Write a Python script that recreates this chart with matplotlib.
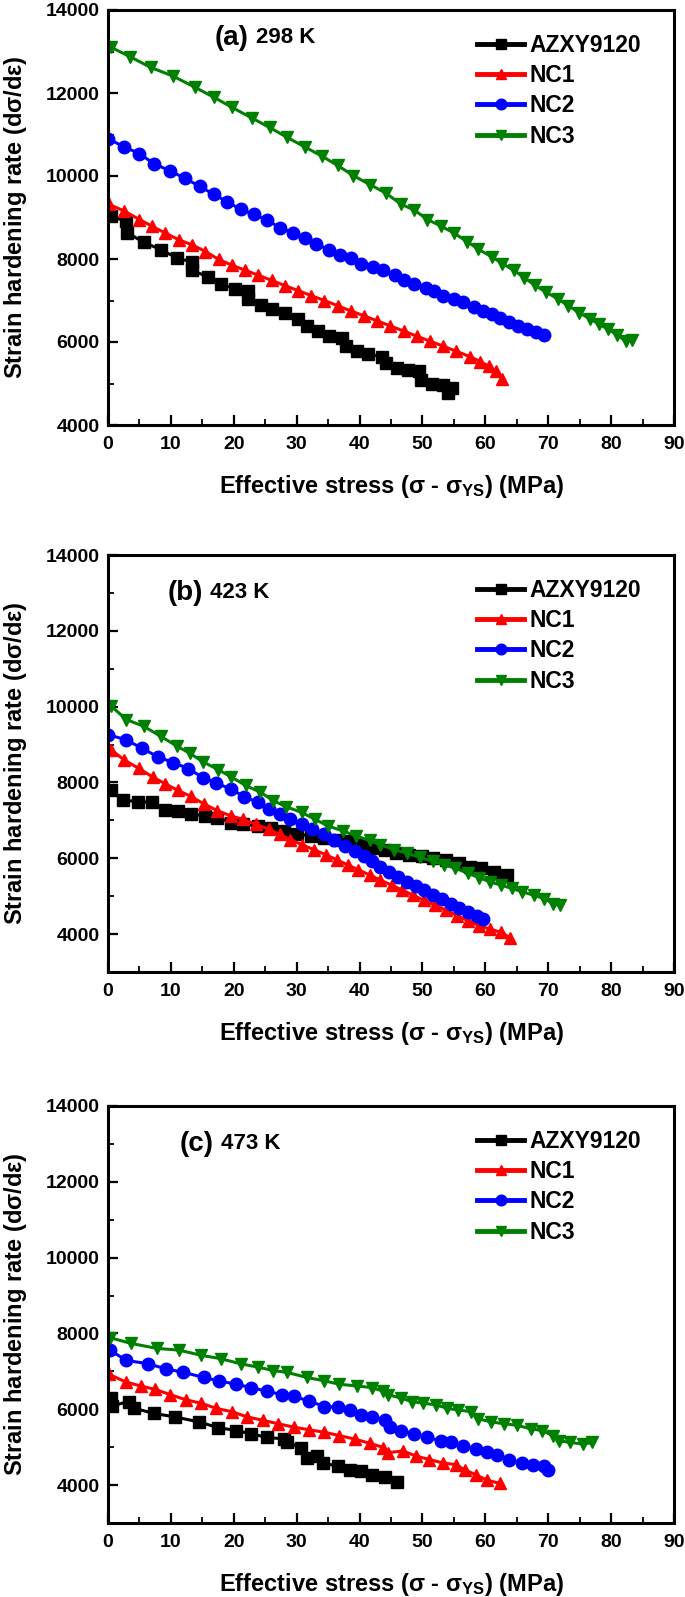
import matplotlib
matplotlib.use("Agg")
import matplotlib.pyplot as plt
from matplotlib.ticker import MultipleLocator

plt.rcParams['font.family'] = ['Liberation Sans', 'DejaVu Sans']
plt.rcParams['font.weight'] = 'bold'
plt.rcParams['mathtext.fontset'] = 'custom'
plt.rcParams['mathtext.bf'] = 'Liberation Sans:bold'
plt.rcParams['mathtext.rm'] = 'Liberation Sans'
plt.rcParams['mathtext.it'] = 'Liberation Sans:italic'

series_names = ["AZXY9120", "NC1", "NC2", "NC3"]
series_colors = ["#000000", "#FF0000", "#0000FF", "#008000"]
series_markers = ["s", "^", "o", "v"]
panel_tags = ["(a)", "(b)", "(c)"]
panel_temps = ["298 K", "423 K", "473 K"]

# ---- Panel (a) 298 K ----
a_azxy_x = [0.5, 2.9, 3.1, 5.7, 8.5, 11.0, 13.3, 13.3, 15.9, 18.0, 20.2, 22.2, 22.2, 24.3, 26.0, 28.1, 30.2,
            31.6, 33.4, 35.1, 37.2, 37.9, 39.6, 41.4, 43.5, 44.2, 45.9, 47.7, 49.4, 49.8, 51.5, 53.3, 54.0, 54.7]
a_azxy_y = [9030, 8910, 8630, 8400, 8220, 8020, 7930, 7730, 7570, 7400, 7280, 7230, 7040, 6880, 6800, 6690, 6550,
            6390, 6270, 6140, 6100, 5900, 5780, 5700, 5650, 5490, 5370, 5330, 5290, 5090, 5000, 4960, 4760, 4880]
a_nc1_x = [0.1, 2.6, 5.0, 7.0, 9.1, 11.3, 13.4, 15.5, 17.6, 19.7, 21.8, 23.9, 26.0, 28.1, 30.2, 32.3, 34.4,
           36.5, 38.6, 40.7, 42.8, 44.9, 47.0, 49.1, 51.2, 53.3, 55.4, 57.5, 59.2, 60.6, 61.7, 62.7]
a_nc1_y = [9320, 9155, 8950, 8790, 8625, 8460, 8340, 8180, 7990, 7850, 7730, 7610, 7485, 7360, 7240, 7120, 7000,
           6875, 6750, 6630, 6510, 6385, 6265, 6140, 6020, 5900, 5775, 5650, 5530, 5410, 5290, 5120]
a_nc2_x = [0.0, 2.6, 5.0, 7.3, 9.8, 12.2, 14.6, 16.8, 19.0, 21.1, 23.2, 25.3, 27.4, 29.4, 31.3, 33.1, 35.1, 36.9,
           38.6, 40.3, 42.1, 43.8, 45.6, 47.0, 48.7, 50.5, 51.9, 53.3, 55.0, 56.4, 58.2, 59.6, 61.0, 62.4, 63.8,
           65.2, 66.6, 68.0, 69.4]
a_nc2_y = [10900, 10700, 10540, 10295, 10130, 9945, 9750, 9560, 9375, 9195, 9075, 8935, 8750, 8630, 8500, 8365,
           8220, 8095, 8015, 7890, 7810, 7730, 7610, 7500, 7400, 7305, 7225, 7120, 7040, 6960, 6835, 6755, 6670,
           6575, 6470, 6385, 6305, 6250, 6180]
a_nc3_x = [0.5, 3.5, 6.8, 10.3, 13.8, 16.8, 19.7, 22.9, 25.7, 28.5, 31.3, 34.0, 36.5, 39.0, 41.7, 44.2, 46.6,
           48.7, 50.8, 53.0, 55.0, 57.1, 58.9, 61.0, 62.7, 64.5, 66.2, 67.9, 69.7, 71.5, 73.2, 74.9, 76.7, 78.1,
           79.5, 80.9, 82.3, 83.4]
a_nc3_y = [13100, 12875, 12615, 12410, 12140, 11900, 11655, 11395, 11170, 10930, 10700, 10480, 10255, 10010,
           9790, 9585, 9320, 9180, 8950, 8790, 8625, 8420, 8235, 8055, 7890, 7730, 7550, 7365, 7200, 7040, 6875,
           6710, 6550, 6430, 6305, 6180, 6020, 6060]

# ---- Panel (b) 423 K ----
b_azxy_x = [0.5, 2.4, 4.7, 7.0, 9.1, 11.1, 13.2, 15.5, 17.4, 19.6, 21.4, 23.8, 25.9, 28.0, 30.1, 32.2, 34.3,
            36.4, 38.4, 40.5, 42.6, 44.0, 45.8, 47.8, 49.9, 51.7, 53.8, 55.8, 57.6, 59.3, 61.4, 63.5]
b_azxy_y = [7790, 7540, 7490, 7480, 7270, 7250, 7160, 7120, 7075, 6940, 6900, 6850, 6790, 6720, 6650, 6580, 6540,
            6495, 6450, 6360, 6270, 6230, 6140, 6095, 6050, 6005, 5960, 5870, 5780, 5740, 5650, 5560]
b_nc1_x = [0.5, 2.6, 4.9, 7.1, 9.1, 11.1, 13.2, 15.3, 17.4, 19.5, 21.4, 23.5, 25.6, 27.3, 29.0, 30.8, 32.7,
           34.6, 36.4, 38.1, 39.8, 41.6, 43.3, 45.1, 46.8, 48.5, 50.3, 52.0, 53.8, 55.5, 57.2, 59.0, 60.7, 62.5,
           63.9]
b_nc1_y = [8860, 8590, 8370, 8145, 7965, 7790, 7630, 7430, 7255, 7120, 7030, 6895, 6765, 6630, 6495, 6360, 6230,
           6095, 5960, 5825, 5695, 5560, 5425, 5290, 5160, 5025, 4890, 4760, 4625, 4490, 4355, 4220, 4135, 4045,
           3910]
b_nc2_x = [0.0, 2.9, 5.4, 7.9, 10.4, 12.8, 15.1, 17.2, 19.5, 21.7, 23.8, 25.6, 27.3, 29.0, 30.8, 32.5, 34.3,
           36.0, 37.7, 39.3, 40.7, 41.9, 43.3, 44.7, 46.1, 47.5, 48.9, 50.3, 51.7, 53.1, 54.5, 55.8, 57.2, 58.6,
           59.7]
b_nc2_y = [9260, 9125, 8900, 8680, 8520, 8365, 8125, 7985, 7830, 7625, 7475, 7300, 7165, 7030, 6895, 6765, 6630,
           6470, 6315, 6185, 6050, 5915, 5780, 5650, 5515, 5380, 5275, 5160, 5025, 4920, 4800, 4685, 4580, 4470,
           4400]
b_nc3_x = [0.5, 2.9, 5.7, 8.4, 10.9, 13.0, 15.1, 17.5, 19.6, 21.9, 24.2, 26.3, 28.3, 30.8, 32.9, 35.0, 37.4,
           39.5, 41.6, 43.3, 45.4, 47.5, 49.6, 51.7, 53.4, 55.2, 57.2, 59.0, 60.7, 62.5, 64.2, 65.9, 67.7, 69.4,
           70.8, 71.9]
b_nc3_y = [10015, 9660, 9480, 9215, 8965, 8770, 8545, 8340, 8145, 7920, 7745, 7520, 7360, 7210, 7030, 6850, 6720,
           6585, 6470, 6360, 6230, 6140, 6025, 5915, 5825, 5740, 5605, 5490, 5380, 5290, 5205, 5115, 5025, 4935,
           4800, 4755]

# ---- Panel (c) 473 K ----
c_azxy_x = [0.5, 0.7, 3.3, 4.2, 7.3, 10.6, 14.5, 17.5, 20.4, 22.8, 25.3, 28.0, 28.4, 30.7, 31.6, 33.3, 34.2,
            36.5, 38.5, 40.3, 42.0, 44.1, 45.9]
c_azxy_y = [6300, 6090, 6205, 6025, 5890, 5800, 5665, 5515, 5440, 5350, 5260, 5215, 5125, 4990, 4720, 4765, 4585,
            4495, 4405, 4360, 4270, 4225, 4090]
c_nc1_x = [0.1, 2.8, 5.2, 7.5, 9.9, 12.4, 14.8, 17.2, 19.7, 22.1, 24.6, 27.0, 29.5, 31.9, 34.4, 36.8, 39.2,
           41.7, 43.8, 44.5, 46.9, 49.0, 51.1, 53.2, 55.3, 56.7, 58.5, 60.2, 62.3]
c_nc1_y = [6930, 6720, 6615, 6525, 6385, 6250, 6160, 6025, 5935, 5800, 5710, 5620, 5530, 5460, 5395, 5305, 5215,
           5100, 4990, 4855, 4900, 4765, 4675, 4585, 4540, 4405, 4270, 4135, 4045]
c_nc2_x = [0.3, 2.9, 6.4, 9.2, 12.0, 15.2, 17.6, 20.4, 22.8, 25.3, 27.7, 29.5, 31.9, 34.4, 36.5, 38.5, 40.3,
           42.0, 44.1, 44.8, 46.6, 48.7, 50.8, 52.9, 54.6, 56.4, 58.5, 60.2, 61.9, 63.7, 65.8, 67.5, 69.3, 69.9]
c_nc2_y = [7560, 7290, 7200, 7065, 6975, 6840, 6750, 6660, 6570, 6475, 6385, 6340, 6225, 6070, 6055, 5980, 5845,
           5800, 5710, 5530, 5440, 5350, 5260, 5170, 5125, 5035, 4945, 4885, 4795, 4675, 4585, 4540, 4495, 4405]
c_nc3_x = [0.3, 3.6, 7.8, 11.3, 14.8, 17.9, 21.1, 23.9, 26.3, 28.4, 31.6, 34.4, 36.8, 39.6, 42.0, 43.8, 44.5,
           46.6, 48.3, 50.1, 52.2, 53.9, 55.7, 57.8, 58.8, 60.9, 63.0, 65.1, 67.2, 69.0, 70.7, 71.7, 73.5, 75.6,
           77.0]
c_nc3_y = [7890, 7740, 7605, 7560, 7425, 7335, 7200, 7110, 7020, 6975, 6840, 6750, 6660, 6615, 6570, 6475, 6385,
           6295, 6205, 6160, 6115, 6025, 5980, 5935, 5755, 5665, 5620, 5575, 5485, 5440, 5305, 5170, 5125, 5080,
           5125]

panels = [
    [(a_azxy_x, a_azxy_y), (a_nc1_x, a_nc1_y), (a_nc2_x, a_nc2_y), (a_nc3_x, a_nc3_y)],
    [(b_azxy_x, b_azxy_y), (b_nc1_x, b_nc1_y), (b_nc2_x, b_nc2_y), (b_nc3_x, b_nc3_y)],
    [(c_azxy_x, c_azxy_y), (c_nc1_x, c_nc1_y), (c_nc2_x, c_nc2_y), (c_nc3_x, c_nc3_y)],
]
panel_ylim = [(4000, 14000), (3000, 14000), (3000, 14000)]

W, H = 685, 1597
fig = plt.figure(figsize=(W / 100, H / 100), dpi=100)
# axes frames in pixels: (left, top, right, bottom)
frames = [(108, 10, 674, 425), (108, 555, 674, 972), (108, 1106, 674, 1523)]
tag_pos = [(0.188, 0.933, 0.262), (0.106, 0.909, 0.180), (0.126, 0.909, 0.200)]

for i, (l, t, r, b) in enumerate(frames):
    ax = fig.add_axes([l / W, 1 - b / H, (r - l) / W, (b - t) / H])
    for (xs, ys), name, col, mk in zip(panels[i], series_names, series_colors, series_markers):
        ax.plot(xs, ys, color=col, marker=mk, markersize=9, linewidth=2.2, label=name,
                markeredgecolor=col, markerfacecolor=col)
    ax.set_xlim(0, 90)
    ax.set_ylim(*panel_ylim[i])
    ax.xaxis.set_major_locator(MultipleLocator(10))
    ax.xaxis.set_minor_locator(MultipleLocator(5))
    ax.yaxis.set_major_locator(MultipleLocator(2000))
    ax.yaxis.set_minor_locator(MultipleLocator(1000))
    ax.set_yticks([4000, 6000, 8000, 10000, 12000, 14000])
    ax.tick_params(which='both', direction='in', top=False, right=False, labelsize=14)
    ax.tick_params(axis='x', which='both', pad=8)
    ax.tick_params(axis='y', which='both', pad=6)
    ax.tick_params(which='major', length=7, width=1.6)
    ax.tick_params(which='minor', length=4, width=1.3)
    for lab in ax.get_xticklabels() + ax.get_yticklabels():
        lab.set_fontweight('bold')
    for sp in ax.spines.values():
        sp.set_linewidth(2.2)
    ax.set_xlabel(r'Effective stress ($\mathrm{σ}$ - $\mathrm{σ}_{\mathbf{YS}}$) (MPa)', fontsize=17,
                  fontweight='bold')
    ax.xaxis.set_label_coords(0.5, -0.115)
    ax.set_ylabel(r'Strain hardening rate (d$\mathrm{σ}$/d$\mathrm{ε}$)', fontsize=17, fontweight='bold')
    ax.yaxis.set_label_coords(-0.14, 0.5)
    tx, ty, tx2 = tag_pos[i]
    ax.text(tx, ty, panel_tags[i], transform=ax.transAxes, fontsize=20, fontweight='bold', va='center', ha='left')
    ax.text(tx2, ty, panel_temps[i], transform=ax.transAxes, fontsize=16, fontweight='bold', va='center', ha='left')
    leg = ax.legend(loc='upper left', bbox_to_anchor=(0.652, 0.943), frameon=False, fontsize=16.5,
                    handlelength=2.05, handletextpad=0.25, labelspacing=0.32, borderpad=0, borderaxespad=0,
                    markerscale=0.85)
    for txt in leg.get_texts():
        txt.set_fontweight('bold')
    for h in leg.legend_handles:
        h.set_linewidth(3.5)

fig.savefig('out.png', dpi=100)
